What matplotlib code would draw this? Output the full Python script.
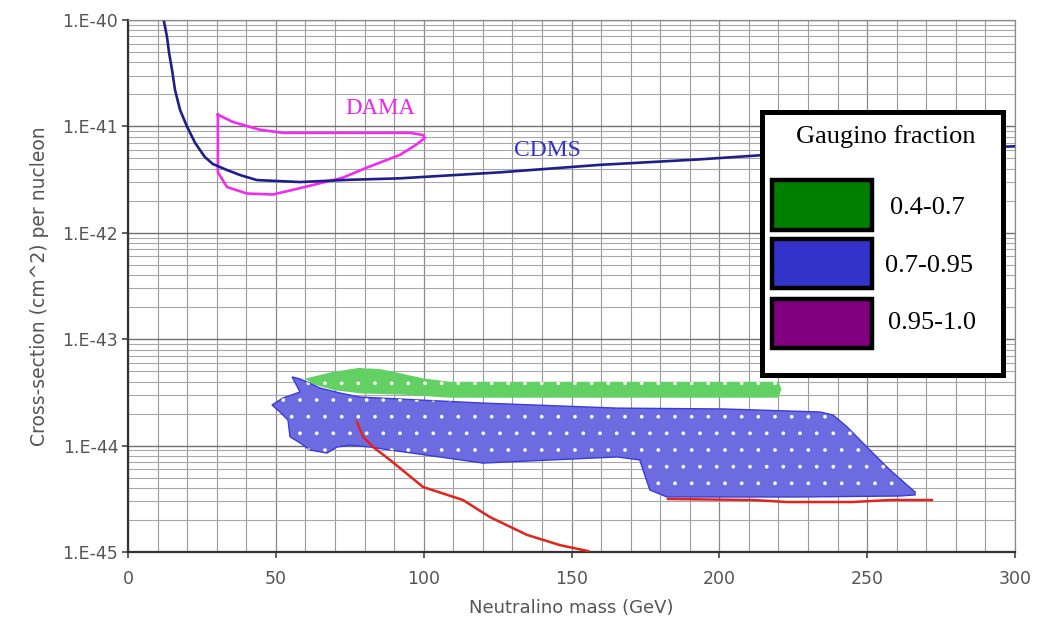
import numpy as np
import matplotlib
matplotlib.use("Agg")
import matplotlib.pyplot as plt
from matplotlib.patches import Polygon, Rectangle
from matplotlib.ticker import FixedLocator, LogLocator, FuncFormatter, MultipleLocator

plt.rcParams["hatch.linewidth"] = 0.25

# --- data -----------------------------------------------------------------
# CDMS exclusion limit
cdms_mass = [12.2, 13.2, 13.9, 14.9, 15.9, 17.6, 20.0, 22.7, 26.0, 28.7, 33.5,
             37.9, 43.6, 58.2, 75.1, 92.0, 125.8, 159.6, 193.4, 213.7, 300]
cdms_xsec = [9.6e-41, 6.9e-41, 4.9e-41, 3.39e-41, 2.2e-41, 1.43e-41, 9.9e-42,
             7.0e-42, 5.15e-42, 4.43e-42, 3.89e-42, 3.49e-42, 3.13e-42, 3.0e-42,
             3.15e-42, 3.25e-42, 3.7e-42, 4.35e-42, 4.9e-42, 5.35e-42, 6.5e-42]

# DAMA allowed region (closed contour)
dama_mass = [30.4, 35.5, 44.6, 52.4, 75.1, 95.4, 99.8, 100.4, 97.7, 92.0, 80.8,
             72.7, 58.2, 49.0, 40.2, 33.5, 30.4, 30.4]
dama_xsec = [1.29e-41, 1.10e-41, 9.3e-42, 8.7e-42, 8.7e-42, 8.7e-42, 8.3e-42,
             7.8e-42, 6.8e-42, 5.4e-42, 4.1e-42, 3.3e-42, 2.63e-42, 2.29e-42,
             2.34e-42, 2.69e-42, 3.7e-42, 1.29e-41]

# gaugino fraction 0.4-0.7
green_mass = [60, 69, 78, 85, 92, 100, 109, 150, 193, 220, 221, 220, 193, 150,
              109, 92, 79, 70, 62]
green_xsec = [4.27e-44, 4.9e-44, 5.37e-44, 5.25e-44, 4.79e-44, 4.27e-44, 3.98e-44,
              3.98e-44, 3.98e-44, 3.98e-44, 3.39e-44, 2.82e-44, 2.82e-44, 2.82e-44,
              2.82e-44, 3.02e-44, 3.09e-44, 3.31e-44, 3.8e-44]

# gaugino fraction 0.7-0.95
blue_mass = [48.7, 52.4, 58.2, 55.5, 58.2, 64.9, 71.7, 78.5, 97.7, 120.1, 165.4,
             201.2, 234.0, 238.4, 243.2, 249.9, 257.7, 266.2, 266.2, 261.1, 227.3,
             182.3, 176.5, 174.2, 173.1, 165.4, 120.1, 88.6, 81.8, 75.1, 70.7,
             67.3, 61.5, 58.2, 54.8, 54.1, 51.4]
blue_xsec = [2.41e-44, 2.80e-44, 3.19e-44, 4.42e-44, 4.23e-44, 3.48e-44, 3.12e-44,
             2.86e-44, 2.69e-44, 2.51e-44, 2.25e-44, 2.21e-44, 2.07e-44, 1.94e-44,
             1.50e-44, 9.7e-45, 5.9e-45, 3.66e-45, 3.44e-45, 3.36e-45, 3.29e-45,
             3.29e-45, 3.83e-45, 5.9e-45, 7.33e-45, 7.82e-45, 6.85e-45, 9.1e-45,
             9.7e-45, 1.01e-44, 9.7e-45, 8.51e-45, 9.1e-45, 1.06e-44, 1.21e-44,
             1.74e-44, 2.07e-44]

# gaugino fraction 0.95-1.0 (two branches)
red1_mass = [77.4, 79.5, 82.9, 88.6, 99.8, 113.3, 122.4, 134.9, 146.1, 155.6]
red1_xsec = [1.67e-44, 1.21e-44, 9.7e-45, 7.33e-45, 4.08e-45, 3.08e-45, 2.13e-45,
             1.45e-45, 1.16e-45, 1.02e-45]
red2_mass = [182.6, 211.4, 222.9, 245.2, 257.7, 271.9]
red2_xsec = [3.15e-45, 3.08e-45, 2.95e-45, 2.95e-45, 3.08e-45, 3.08e-45]

y_decades = [1e-45, 1e-44, 1e-43, 1e-42, 1e-41, 1e-40]
legend_labels = ["0.4-0.7", "0.7-0.95", "0.95-1.0"]
legend_colors = ["#008000", "#3333cc", "#800080"]

W, H = 1039, 623
fig = plt.figure(figsize=(W / 100, H / 100), dpi=100)
ax = fig.add_axes([128 / W, 1 - 552 / H, (1015 - 128) / W, (552 - 20) / H])

ax.set_xlim(0, 300)
ax.set_yscale("log")
ax.set_ylim(y_decades[0], y_decades[-1])

# grid
ax.xaxis.set_major_locator(MultipleLocator(50))
ax.xaxis.set_minor_locator(MultipleLocator(10))
ax.yaxis.set_major_locator(FixedLocator(y_decades))
ax.yaxis.set_minor_locator(LogLocator(base=10, subs=np.arange(2, 10), numticks=20))
ax.grid(which="major", axis="x", color="#8a8a8a", lw=0.9)
ax.grid(which="minor", axis="x", color="#9a9a9a", lw=0.8)
ax.grid(which="major", axis="y", color="#707070", lw=1.0)
ax.grid(which="minor", axis="y", color="#a8a8a8", lw=0.8)
ax.set_axisbelow(True)

ax.yaxis.set_major_formatter(
    FuncFormatter(lambda v, _: "1.E%d" % int(round(np.log10(v)))))
ax.yaxis.set_minor_formatter(FuncFormatter(lambda v, _: ""))
ax.tick_params(which="minor", length=0)
ax.tick_params(which="major", length=4, width=1.2, color="#444444",
               labelsize=12.5, labelcolor="#555555", pad=3)
ax.tick_params(axis="x", which="major", pad=9)

for side in ["left", "bottom"]:
    ax.spines[side].set_color("#333333")
    ax.spines[side].set_linewidth(1.6)
for side in ["top", "right"]:
    ax.spines[side].set_color("#8a8a8a")
    ax.spines[side].set_linewidth(0.9)

ax.set_xlabel("Neutralino mass (GeV)", fontsize=13, color="#555555", labelpad=8)
ax.set_ylabel("Cross-section (cm^2) per nucleon", fontsize=13.5, color="#555555",
              labelpad=10)

# regions
green_pts = np.column_stack([green_mass, green_xsec])
blue_pts = np.column_stack([blue_mass, blue_xsec])

ax.add_patch(Polygon(green_pts, closed=True, facecolor="#62d062", edgecolor="none",
                     zorder=2))
ax.add_patch(Polygon(green_pts, closed=True, facecolor="none", edgecolor="white",
                     hatch=".", lw=0, zorder=2.1))
ax.add_patch(Polygon(blue_pts, closed=True, facecolor="#6c6ce0", edgecolor="#3a3ad8",
                     lw=1.0, zorder=3))
ax.add_patch(Polygon(blue_pts, closed=True, facecolor="none", edgecolor="white",
                     hatch=".", lw=0, zorder=3.1))

ax.plot(red1_mass, red1_xsec, color="#e3231c", lw=1.8, zorder=4)
ax.plot(red2_mass, red2_xsec, color="#e3231c", lw=1.8, zorder=4)

ax.plot(dama_mass, dama_xsec, color="#f02cf0", lw=1.9, zorder=4)
ax.plot(cdms_mass, cdms_xsec, color="#1e1e8c", lw=1.9, zorder=5)

fig.text(380 / W, 1 - 109 / H, "DAMA", color="#f020f0", fontsize=16.5,
         family="Liberation Serif", ha="center", va="center")
fig.text(547 / W, 1 - 150 / H, "CDMS", color="#3333cc", fontsize=17,
         family="Liberation Serif", ha="center", va="center")


# legend box drawn in pixel coordinates
def px_rect(x0, y0, x1, y1, **kw):
    return Rectangle((x0 / W, 1 - y1 / H), (x1 - x0) / W, (y1 - y0) / H,
                     transform=fig.transFigure, **kw)


fig.add_artist(px_rect(762, 112, 1003, 375, facecolor="white", edgecolor="black",
                       lw=3.6, zorder=10))
fig.text(886 / W, 1 - 137 / H, "Gaugino fraction", fontsize=19,
         family="Liberation Serif", ha="center", va="center", zorder=11)

swatch_y = [(180, 230), (239, 288), (299, 348)]
label_x = [890, 885, 888]
label_y = [208, 266, 323]
for (y0, y1), col, lab, lx, ly in zip(swatch_y, legend_colors, legend_labels,
                                      label_x, label_y):
    fig.add_artist(px_rect(772, y0, 872, y1, facecolor=col, edgecolor="black",
                           lw=3.2, zorder=11))
    fig.text(lx / W, 1 - ly / H, lab, fontsize=19, family="Liberation Serif",
             ha="left", va="center", zorder=12)

fig.savefig("out.png", dpi=100)
